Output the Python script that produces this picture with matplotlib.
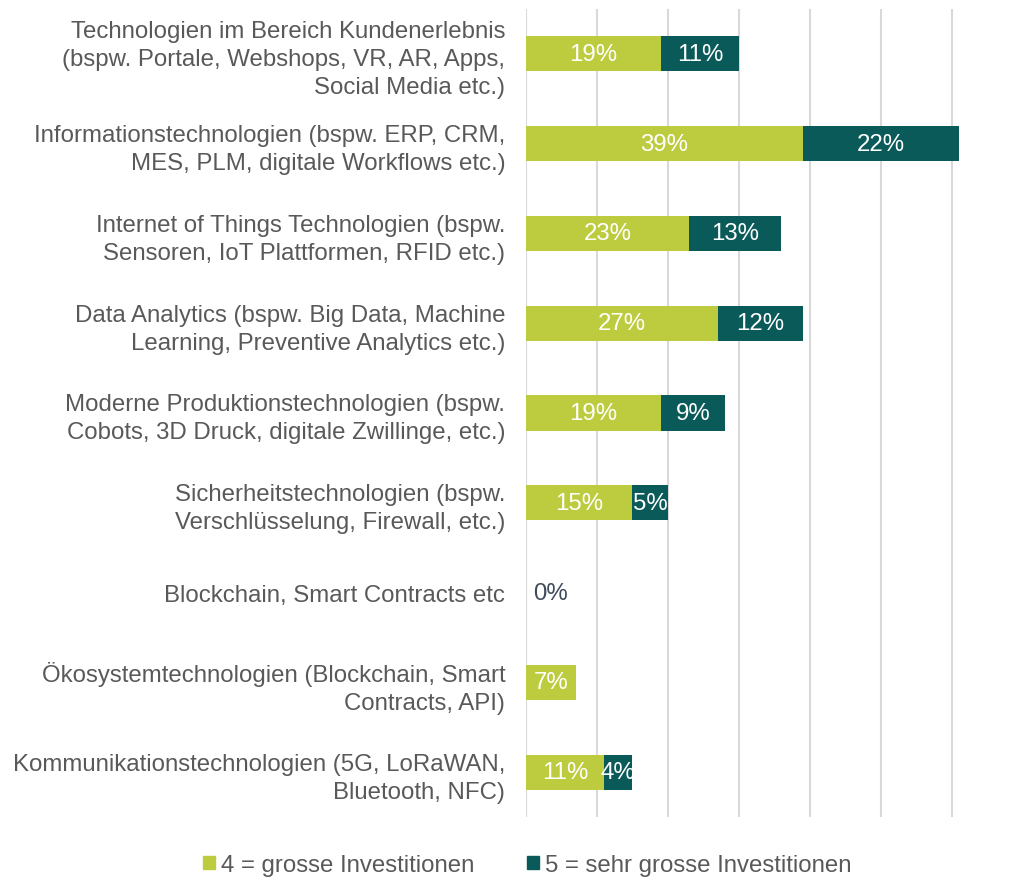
import matplotlib
matplotlib.use("Agg")
import matplotlib.pyplot as plt
from matplotlib.patches import Patch

plt.rcParams['font.family'] = ['Liberation Sans', 'DejaVu Sans']

categories = [
    "Technologien im Bereich Kundenerlebnis\n(bspw. Portale, Webshops, VR, AR, Apps,\nSocial Media etc.)",
    "Informationstechnologien (bspw. ERP, CRM,\nMES, PLM, digitale Workflows etc.)",
    "Internet of Things Technologien (bspw.\nSensoren, IoT Plattformen, RFID etc.)",
    "Data Analytics (bspw. Big Data, Machine\nLearning, Preventive Analytics etc.)",
    "Moderne Produktionstechnologien (bspw.\nCobots, 3D Druck, digitale Zwillinge, etc.)",
    "Sicherheitstechnologien (bspw.\nVerschlüsselung, Firewall, etc.)",
    "Blockchain, Smart Contracts etc",
    "Ökosystemtechnologien (Blockchain, Smart\nContracts, API)",
    "Kommunikationstechnologien (5G, LoRaWAN,\nBluetooth, NFC)",
]
grosse = [19, 39, 23, 27, 19, 15, 0, 7, 11]
sehr_grosse = [11, 22, 13, 12, 9, 5, 0, 0, 4]
series_names = ["4 = grosse Investitionen", "5 = sehr grosse Investitionen"]
x_ticks = [0, 10, 20, 30, 40, 50, 60]

green = "#BDCC3E"
teal = "#0B5A5A"
text_gray = "#595959"

fig = plt.figure(figsize=(10.11, 8.79), dpi=100)
ax = fig.add_axes([526/1011, 1 - 818/879, (961 - 526)/1011, (818 - 10)/879])

n = len(categories)
ypos = list(range(n))
bh = 0.39
ax.barh(ypos, grosse, height=bh, color=green, zorder=3)
ax.barh(ypos, sehr_grosse, left=grosse, height=bh, color=teal, zorder=3)

fs = 17.3
for i in range(n):
    g, s = grosse[i], sehr_grosse[i]
    if g > 0:
        ax.text(g / 2, i, f"{g}%", ha="center", va="center", color="white", fontsize=fs, zorder=4)
    if s > 0:
        ax.text(g + s / 2, i, f"{s}%", ha="center", va="center", color="white", fontsize=fs, zorder=4)
    if g == 0 and s == 0:
        ax.text(g + s + 1.0, i, "0%", ha="left", va="center", color="#404B5A", fontsize=fs, zorder=4)

ax.set_xlim(0, 61.3)
ax.set_ylim(n - 0.5, -0.5)
for t in x_ticks:
    ax.axvline(t, color="#D9D9D9", linewidth=1.5, zorder=1)
ax.set_xticks([])
ax.set_yticks(ypos)
ax.set_yticklabels(categories, fontsize=fs, color=text_gray, linespacing=1.35)
ax.tick_params(axis="y", length=0, pad=15)
for sp in ax.spines.values():
    sp.set_visible(False)

handles = [Patch(color=green), Patch(color=teal)]
fig.legend(handles, series_names, loc="center", bbox_to_anchor=(527/1011, 1 - 866/879),
           ncol=2, frameon=False, fontsize=fs, labelcolor=text_gray,
           handlelength=0.5, handleheight=0.5, handletextpad=0.25, columnspacing=2.2)

fig.savefig("out.png", dpi=100)
